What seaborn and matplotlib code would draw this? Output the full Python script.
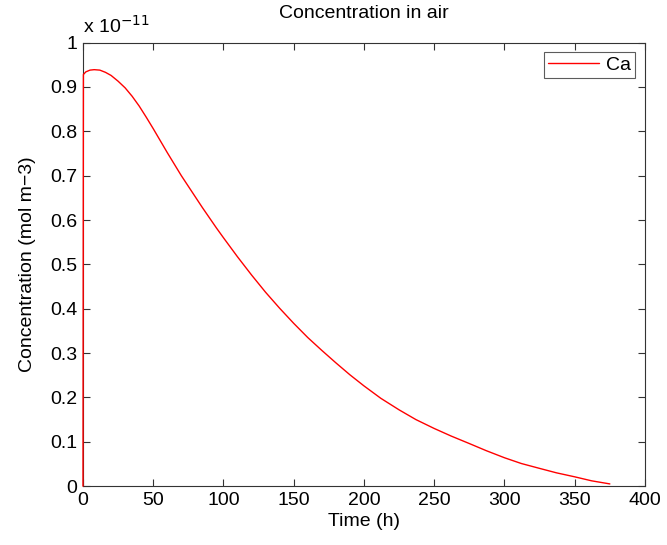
import numpy as np
import pandas as pd
import matplotlib
matplotlib.use("Agg")
import matplotlib.pyplot as plt
from matplotlib.ticker import FuncFormatter, MultipleLocator
import seaborn as sns

# concentration of Ca in air, values in units of 1e-11 mol m-3
time_h = [0, 0.3, 2, 5, 8, 12, 16, 20, 25, 30, 35, 40, 45, 50, 55, 60, 65,
          70, 75, 80, 85, 90, 95, 100, 110, 120, 130, 140, 150, 160, 170, 180,
          190, 200, 212, 225, 237, 250, 262, 275, 287, 300, 312, 325, 337,
          350, 362, 375]
conc_ca = [0.0, 0.928, 0.934, 0.938, 0.939, 0.938, 0.933, 0.926, 0.913, 0.898,
           0.879, 0.857, 0.832, 0.806, 0.779, 0.752, 0.726, 0.700, 0.676,
           0.652, 0.628, 0.605, 0.582, 0.560, 0.517, 0.476, 0.437, 0.401,
           0.367, 0.335, 0.306, 0.278, 0.251, 0.226, 0.198, 0.172, 0.150,
           0.130, 0.113, 0.096, 0.080, 0.064, 0.051, 0.040, 0.030, 0.021,
           0.012, 0.005]

df = pd.DataFrame({"Time (h)": time_h, "Ca": conc_ca})

sns.set_style("ticks")
plt.rcParams['font.family'] = ['Liberation Sans', 'DejaVu Sans']
plt.rcParams['xtick.direction'] = 'in'
plt.rcParams['ytick.direction'] = 'in'
plt.rcParams['text.color'] = 'black'
plt.rcParams['axes.labelcolor'] = 'black'
plt.rcParams['xtick.labelcolor'] = 'black'
plt.rcParams['ytick.labelcolor'] = 'black'

fig = plt.figure(figsize=(6.67, 5.45), dpi=100)
ax = fig.add_axes([0.1244, 0.108, 0.8426, 0.8138])

sns.lineplot(data=df, x="Time (h)", y="Ca", color="red", linewidth=1.0,
             label="Ca", ax=ax, sort=False, zorder=5)
for ln in ax.lines:
    ln.set_clip_on(False)

ax.set_xlim(0, 400)
ax.set_ylim(0, 1)
ax.xaxis.set_major_locator(MultipleLocator(50))
ax.yaxis.set_major_locator(MultipleLocator(0.1))
fmt = FuncFormatter(lambda v, p: "%g" % round(v, 6))
ax.xaxis.set_major_formatter(fmt)
ax.yaxis.set_major_formatter(fmt)
ax.tick_params(axis='both', which='major', labelsize=14, length=5, width=0.8,
               top=True, right=True, color='#333333', pad=4)
for sp in ax.spines.values():
    sp.set_visible(True)
    sp.set_color('#333333')
    sp.set_linewidth(0.8)

ax.set_xlabel("Time (h)", fontsize=14, labelpad=3)
ax.set_ylabel("Concentration (mol m\u22123)", fontsize=14, labelpad=10)
ax.set_title("Concentration in air", fontsize=14, pad=18)
ax.text(0.0, 1.012, r"x 10$^{-11}$", transform=ax.transAxes, fontsize=14,
        ha='left', va='bottom')

leg = ax.legend(loc='upper right', fontsize=14, frameon=True, fancybox=False,
                edgecolor='#333333', handlelength=2.6, borderpad=0.2,
                borderaxespad=0.5, handletextpad=0.4)
leg.get_frame().set_linewidth(0.8)

fig.savefig("out.png", dpi=100)
